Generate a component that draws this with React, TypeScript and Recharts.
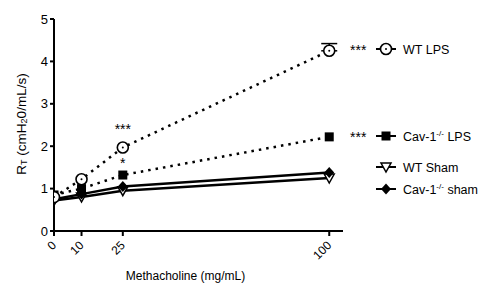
import React from "react";
import { ComposedChart, Line, XAxis, YAxis, ErrorBar, LabelList, Label } from "recharts";

const doses = [0, 10, 25, 100];
const wtLps = [0.8, 1.22, 1.97, 4.25];
const wtLpsErr: any[] = [null, null, null, [0, 0.17]];
const cavLps = [0.85, 1.0, 1.32, 2.22];
const wtSham = [0.72, 0.8, 0.95, 1.25];
const cavSham = [0.75, 0.87, 1.05, 1.38];
const wtLpsSig = ["", "", "***", ""];
const cavLpsSig = ["", "", "*", ""];
const xTicks = [0, 10, 25, 100];
const yTicks = [0, 1, 2, 3, 4, 5];

const data = doses.map((d, i) => ({
  dose: d,
  wtLps: wtLps[i],
  wtLpsErr: wtLpsErr[i],
  cavLps: cavLps[i],
  wtSham: wtSham[i],
  cavSham: cavSham[i],
  wtLpsSig: wtLpsSig[i],
  cavLpsSig: cavLpsSig[i],
}));

const FONT = "'Liberation Sans', Arial, sans-serif";

const CircleDot = (p: any) => {
  const { cx, cy } = p;
  if (cx == null || cy == null) return null;
  return (
    <g>
      <circle cx={cx} cy={cy} r={5.5} fill="#fff" stroke="#000" strokeWidth={1.6} />
      <circle cx={cx} cy={cy} r={1} fill="#000" />
    </g>
  );
};
const SquareDot = (p: any) => {
  const { cx, cy } = p;
  if (cx == null || cy == null) return null;
  return <rect x={cx - 4.5} y={cy - 4.5} width={9} height={9} fill="#000" />;
};
const TriDot = (p: any) => {
  const { cx, cy } = p;
  if (cx == null || cy == null) return null;
  return (
    <polygon
      points={`${cx - 5},${cy - 4} ${cx + 5},${cy - 4} ${cx},${cy + 5}`}
      fill="#fff"
      stroke="#000"
      strokeWidth={1.5}
    />
  );
};
const DiamondDot = (p: any) => {
  const { cx, cy } = p;
  if (cx == null || cy == null) return null;
  return (
    <polygon points={`${cx},${cy - 5.5} ${cx + 5},${cy} ${cx},${cy + 5.5} ${cx - 5},${cy}`} fill="#000" />
  );
};

const SigLabel = (offset: number) => (p: any) => {
  const { x, y, value } = p;
  if (!value) return null;
  return (
    <text x={x} y={y + offset} textAnchor="middle" fontFamily={FONT} fontSize={14} fill="#000">
      {value}
    </text>
  );
};

const XTick = (p: any) => {
  const { x, y, payload } = p;
  return (
    <text
      x={x + 3}
      y={y + 8}
      textAnchor="end"
      fontFamily={FONT}
      fontSize={12}
      fill="#000"
      transform={`rotate(-45, ${x + 3}, ${y + 8})`}
    >
      {payload.value}
    </text>
  );
};

const YLabel = (p: any) => {
  const vb = p.viewBox || {};
  const cx = 21;
  const cy = vb.y + vb.height / 2 - 1;
  return (
    <text
      x={cx}
      y={cy}
      textAnchor="middle"
      fontFamily={FONT}
      fontSize={13.5}
      fill="#000"
      transform={`rotate(-90, ${cx}, ${cy})`}
      dominantBaseline="central"
    >
      <tspan>R</tspan>
      <tspan fontSize={9} dy={3}>T</tspan>
      <tspan dy={-3}> (cmH</tspan>
      <tspan fontSize={9} dy={3}>2</tspan>
      <tspan dy={-3}>0/mL/s)</tspan>
    </text>
  );
};

const Sup = ({ children }: any) => (
  <tspan fontSize={8} dy={-5}>{children}</tspan>
);

const legendItems = [
  { y: 49, stars: "***", sym: "circle", label: ["WT LPS"] },
  { y: 136, stars: "***", sym: "square", label: ["Cav-1", "-/-", " LPS"] },
  { y: 167, stars: "", sym: "tri", label: ["WT Sham"] },
  { y: 189, stars: "", sym: "diamond", label: ["Cav-1", "-/-", " sham"] },
];

const LegendSvg = () => (
  <svg width={160} height={301} style={{ position: "absolute", left: 340, top: 0 }}>
    {legendItems.map((it, i) => {
      const sx = 46;
      const y = it.y;
      let sym: any = null;
      if (it.sym === "circle") sym = <CircleDot cx={sx} cy={y} />;
      if (it.sym === "square") sym = <SquareDot cx={sx} cy={y} />;
      if (it.sym === "tri") sym = <TriDot cx={sx} cy={y} />;
      if (it.sym === "diamond") sym = <DiamondDot cx={sx} cy={y} />;
      return (
        <g key={i}>
          {it.stars && (
            <text x={10} y={y + 5.5} fontFamily={FONT} fontSize={14} fill="#000">
              {it.stars}
            </text>
          )}
          <line x1={36} x2={56} y1={y} y2={y} stroke="#000" strokeWidth={2} />
          {sym}
          <text x={63} y={y + 4.5} fontFamily={FONT} fontSize={12.5} fill="#000">
            <tspan>{it.label[0]}</tspan>
            {it.label.length > 1 && <Sup>{it.label[1]}</Sup>}
            {it.label.length > 2 && <tspan dy={5}>{it.label[2]}</tspan>}
          </text>
        </g>
      );
    })}
  </svg>
);

export default function App() {
  return (
    <div style={{ position: "absolute", left: 0, top: 0, width: 500, height: 301, background: "#fff" }}>
      <ComposedChart
        width={500}
        height={301}
        data={data}
        margin={{ top: 19, right: 157, bottom: 0, left: 0 }}
      >
        <XAxis
          dataKey="dose"
          type="number"
          domain={[0, 105]}
          ticks={xTicks}
          allowDataOverflow
          height={70}
          stroke="#000"
          strokeWidth={2}
          tickSize={5}
          tick={<XTick />}
          interval={0}
        >
          <Label
            value="Methacholine (mg/mL)"
            position="insideBottom"
            offset={21}
            dx={-13}
            style={{ fontFamily: FONT, fontSize: 12, fill: "#000" }}
          />
        </XAxis>
        <YAxis
          type="number"
          domain={[0, 5]}
          ticks={yTicks}
          width={54}
          stroke="#000"
          strokeWidth={2}
          tickSize={4}
          tick={{ fontFamily: FONT, fontSize: 13, fill: "#000" }}
          interval={0}
        >
          <Label content={<YLabel />} />
        </YAxis>
        <Line
          dataKey="wtSham"
          stroke="#000"
          strokeWidth={2.5}
          dot={<TriDot />}
          isAnimationActive={false}
        />
        <Line
          dataKey="cavSham"
          stroke="#000"
          strokeWidth={2.5}
          dot={<DiamondDot />}
          isAnimationActive={false}
        />
        <Line
          dataKey="cavLps"
          stroke="#000"
          strokeWidth={2.5}
          strokeDasharray="2.5 5"
          dot={<SquareDot />}
          isAnimationActive={false}
        >
          <LabelList dataKey="cavLpsSig" content={SigLabel(-7)} />
        </Line>
        <Line
          dataKey="wtLps"
          stroke="#000"
          strokeWidth={2.5}
          strokeDasharray="2.5 5"
          dot={<CircleDot />}
          isAnimationActive={false}
        >
          <ErrorBar dataKey="wtLpsErr" width={8} stroke="#000" strokeWidth={1.5} direction="y" />
          <LabelList dataKey="wtLpsSig" content={SigLabel(-13)} />
        </Line>
      </ComposedChart>
      <LegendSvg />
    </div>
  );
}
